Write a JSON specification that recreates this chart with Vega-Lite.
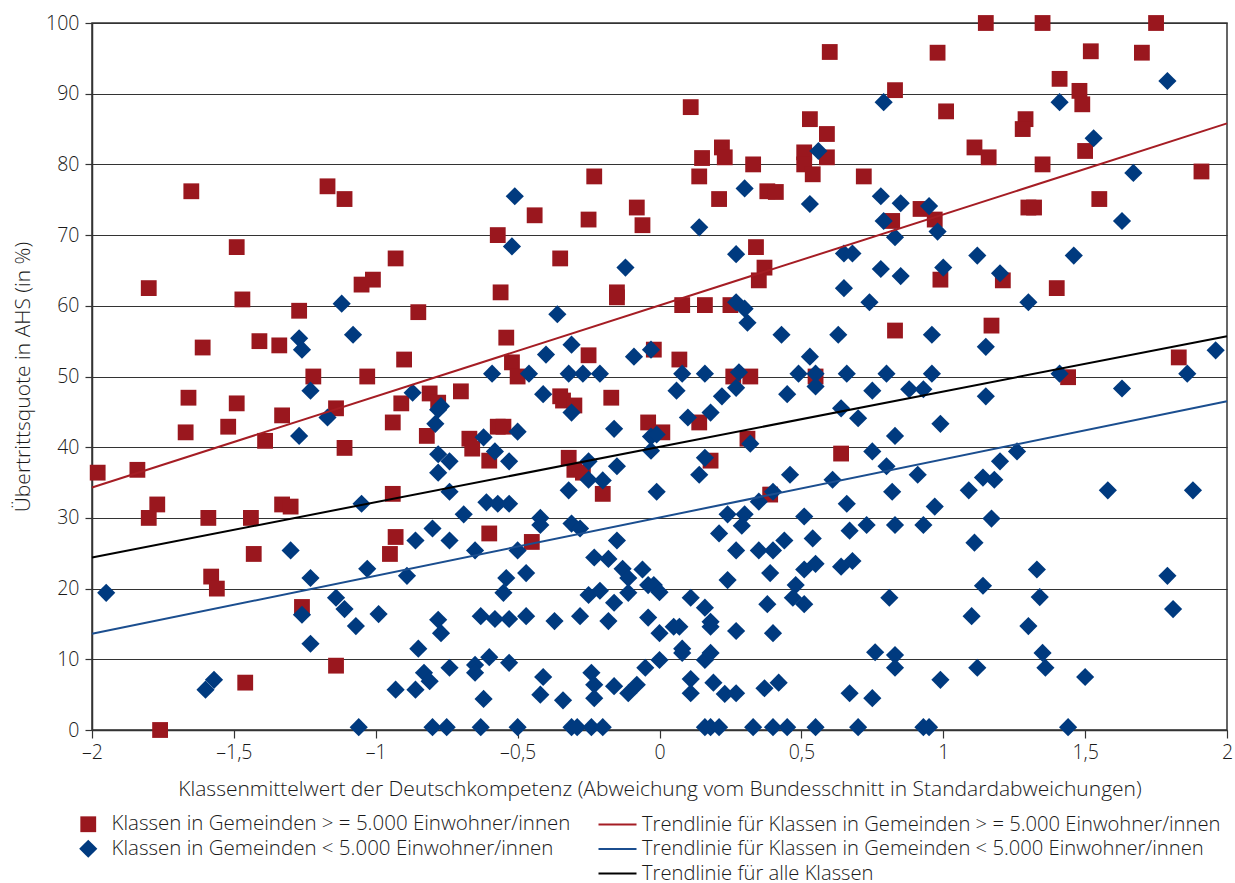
{
  "$schema": "https://vega.github.io/schema/vega-lite/v6.json",
  "width": 1135,
  "height": 707,
  "autosize": {"type": "none"},
  "padding": {"left": 92, "top": 23, "right": 8, "bottom": 153},
  "background": "white",
  "datasets": {
    "pts": [
      {"g":"A","x":-1.98,"y":36.4},{"g":"A","x":-1.84,"y":36.8},{"g":"A","x":-1.65,"y":76.2},{"g":"A","x":-1.17,"y":76.9},{"g":"A","x":-1.11,"y":75.1},{"g":"A","x":-1.49,"y":68.3},{"g":"A","x":-0.23,"y":78.3},{"g":"A","x":-0.44,"y":72.8},{"g":"A","x":-0.25,"y":72.2},{"g":"A","x":-0.08,"y":73.9},{"g":"A","x":-0.06,"y":71.4},{"g":"A","x":-0.57,"y":70.0},{"g":"A","x":-0.93,"y":66.7},{"g":"A","x":-0.35,"y":66.7},{"g":"A","x":0.60,"y":95.9},{"g":"A","x":0.98,"y":95.8},{"g":"A","x":0.83,"y":90.5},{"g":"A","x":0.11,"y":88.1},{"g":"A","x":1.01,"y":87.5},{"g":"A","x":0.53,"y":86.4},{"g":"A","x":0.59,"y":84.3},{"g":"A","x":0.22,"y":82.4},{"g":"A","x":0.15,"y":80.9},{"g":"A","x":0.23,"y":81.0},{"g":"A","x":0.51,"y":81.7},{"g":"A","x":0.59,"y":81.0},{"g":"A","x":0.33,"y":80.0},{"g":"A","x":0.51,"y":80.0},{"g":"A","x":0.54,"y":78.6},{"g":"A","x":0.14,"y":78.3},{"g":"A","x":0.72,"y":78.3},{"g":"A","x":0.38,"y":76.2},{"g":"A","x":0.41,"y":76.1},{"g":"A","x":0.21,"y":75.1},{"g":"A","x":0.92,"y":73.7},{"g":"A","x":0.82,"y":72.0},{"g":"A","x":0.97,"y":72.2},{"g":"A","x":0.34,"y":68.3},{"g":"A","x":1.15,"y":100},{"g":"A","x":1.35,"y":100},{"g":"A","x":1.75,"y":100},{"g":"A","x":1.52,"y":96.0},{"g":"A","x":1.70,"y":95.8},{"g":"A","x":1.41,"y":92.1},{"g":"A","x":1.48,"y":90.4},{"g":"A","x":1.49,"y":88.5},{"g":"A","x":1.29,"y":86.4},{"g":"A","x":1.28,"y":85.0},{"g":"A","x":1.11,"y":82.4},{"g":"A","x":1.16,"y":81.0},{"g":"A","x":1.50,"y":81.9},{"g":"A","x":1.35,"y":80.0},{"g":"A","x":1.91,"y":79.0},{"g":"A","x":1.30,"y":73.9},{"g":"A","x":1.32,"y":73.9},{"g":"A","x":1.55,"y":75.1},{"g":"A","x":-1.80,"y":62.5},{"g":"A","x":-1.47,"y":60.9},{"g":"A","x":-1.27,"y":59.3},{"g":"A","x":-1.05,"y":63.0},{"g":"A","x":-1.01,"y":63.7},{"g":"A","x":-1.61,"y":54.1},{"g":"A","x":-1.41,"y":55.0},{"g":"A","x":-1.34,"y":54.4},{"g":"A","x":-1.22,"y":50.0},{"g":"A","x":-1.03,"y":50.0},{"g":"A","x":-1.66,"y":47.0},{"g":"A","x":-1.49,"y":46.2},{"g":"A","x":-1.33,"y":44.5},{"g":"A","x":-1.14,"y":45.5},{"g":"A","x":-1.67,"y":42.1},{"g":"A","x":-1.52,"y":42.9},{"g":"A","x":-1.39,"y":40.9},{"g":"A","x":-1.11,"y":39.9},{"g":"A","x":-0.56,"y":61.9},{"g":"A","x":-0.15,"y":61.9},{"g":"A","x":-0.15,"y":61.2},{"g":"A","x":-0.85,"y":59.1},{"g":"A","x":-0.54,"y":55.5},{"g":"A","x":-0.90,"y":52.4},{"g":"A","x":-0.52,"y":52.0},{"g":"A","x":-0.25,"y":53.0},{"g":"A","x":-0.02,"y":53.8},{"g":"A","x":-0.50,"y":50.0},{"g":"A","x":-0.81,"y":47.6},{"g":"A","x":-0.70,"y":47.9},{"g":"A","x":-0.91,"y":46.2},{"g":"A","x":-0.78,"y":46.3},{"g":"A","x":-0.35,"y":47.2},{"g":"A","x":-0.34,"y":46.6},{"g":"A","x":-0.30,"y":45.9},{"g":"A","x":-0.17,"y":47.0},{"g":"A","x":-0.94,"y":43.5},{"g":"A","x":-0.57,"y":42.9},{"g":"A","x":-0.55,"y":42.9},{"g":"A","x":-0.82,"y":41.6},{"g":"A","x":-0.04,"y":43.5},{"g":"A","x":-0.67,"y":41.2},{"g":"A","x":-0.66,"y":39.8},{"g":"A","x":-0.60,"y":38.1},{"g":"A","x":-0.32,"y":38.5},{"g":"A","x":-0.30,"y":36.8},{"g":"A","x":-0.27,"y":36.4},{"g":"A","x":-0.94,"y":33.4},{"g":"A","x":-0.20,"y":33.4},{"g":"A","x":0.37,"y":65.4},{"g":"A","x":0.35,"y":63.6},{"g":"A","x":0.99,"y":63.7},{"g":"A","x":0.08,"y":60.1},{"g":"A","x":0.16,"y":60.1},{"g":"A","x":0.25,"y":60.1},{"g":"A","x":0.83,"y":56.5},{"g":"A","x":0.07,"y":52.4},{"g":"A","x":0.26,"y":50.0},{"g":"A","x":0.32,"y":50.0},{"g":"A","x":0.55,"y":50.0},{"g":"A","x":0.01,"y":42.1},{"g":"A","x":0.14,"y":43.5},{"g":"A","x":0.31,"y":41.2},{"g":"A","x":0.18,"y":38.1},{"g":"A","x":0.64,"y":39.1},{"g":"A","x":0.39,"y":33.3},{"g":"A","x":1.21,"y":63.6},{"g":"A","x":1.40,"y":62.5},{"g":"A","x":1.17,"y":57.2},{"g":"A","x":1.44,"y":49.9},{"g":"A","x":1.83,"y":52.7},{"g":"A","x":-1.77,"y":31.9},{"g":"A","x":-1.80,"y":30.0},{"g":"A","x":-1.59,"y":30.0},{"g":"A","x":-1.44,"y":30.0},{"g":"A","x":-1.33,"y":31.9},{"g":"A","x":-1.30,"y":31.6},{"g":"A","x":-1.43,"y":24.9},{"g":"A","x":-1.58,"y":21.7},{"g":"A","x":-1.56,"y":20.0},{"g":"A","x":-1.26,"y":17.4},{"g":"A","x":-1.14,"y":9.1},{"g":"A","x":-1.46,"y":6.7},{"g":"A","x":-1.76,"y":0},{"g":"A","x":-0.93,"y":27.3},{"g":"A","x":-0.95,"y":24.9},{"g":"A","x":-0.60,"y":27.8},{"g":"A","x":-0.45,"y":26.6},
      {"g":"B","x":-0.51,"y":75.5},{"g":"B","x":-0.52,"y":68.4},{"g":"B","x":0.79,"y":88.8},{"g":"B","x":0.56,"y":81.9},{"g":"B","x":0.30,"y":76.6},{"g":"B","x":0.53,"y":74.4},{"g":"B","x":0.78,"y":75.5},{"g":"B","x":0.85,"y":74.5},{"g":"B","x":0.95,"y":74.1},{"g":"B","x":0.79,"y":72.0},{"g":"B","x":0.14,"y":71.1},{"g":"B","x":0.83,"y":69.7},{"g":"B","x":0.98,"y":70.5},{"g":"B","x":0.27,"y":67.3},{"g":"B","x":0.65,"y":67.4},{"g":"B","x":0.68,"y":67.4},{"g":"B","x":1.79,"y":91.8},{"g":"B","x":1.41,"y":88.8},{"g":"B","x":1.53,"y":83.7},{"g":"B","x":1.67,"y":78.8},{"g":"B","x":1.63,"y":72.0},{"g":"B","x":1.12,"y":67.1},{"g":"B","x":1.46,"y":67.1},{"g":"B","x":-1.12,"y":60.3},{"g":"B","x":-1.27,"y":55.4},{"g":"B","x":-1.26,"y":53.8},{"g":"B","x":-1.08,"y":55.9},{"g":"B","x":-1.23,"y":48.0},{"g":"B","x":-1.17,"y":44.2},{"g":"B","x":-1.27,"y":41.6},{"g":"B","x":-0.12,"y":65.4},{"g":"B","x":-0.36,"y":58.8},{"g":"B","x":-0.31,"y":54.5},{"g":"B","x":-0.40,"y":53.1},{"g":"B","x":-0.09,"y":52.8},{"g":"B","x":-0.03,"y":53.8},{"g":"B","x":-0.59,"y":50.4},{"g":"B","x":-0.46,"y":50.4},{"g":"B","x":-0.32,"y":50.4},{"g":"B","x":-0.27,"y":50.4},{"g":"B","x":-0.21,"y":50.4},{"g":"B","x":-0.87,"y":47.7},{"g":"B","x":-0.77,"y":45.8},{"g":"B","x":-0.78,"y":45.3},{"g":"B","x":-0.41,"y":47.5},{"g":"B","x":-0.31,"y":44.9},{"g":"B","x":-0.79,"y":43.3},{"g":"B","x":-0.50,"y":42.2},{"g":"B","x":-0.16,"y":42.6},{"g":"B","x":-0.62,"y":41.4},{"g":"B","x":-0.58,"y":39.4},{"g":"B","x":-0.53,"y":38.0},{"g":"B","x":-0.78,"y":39.0},{"g":"B","x":-0.74,"y":38.0},{"g":"B","x":-0.78,"y":36.4},{"g":"B","x":-0.25,"y":38.0},{"g":"B","x":-0.25,"y":35.4},{"g":"B","x":-0.20,"y":35.3},{"g":"B","x":-0.15,"y":37.3},{"g":"B","x":-0.74,"y":33.7},{"g":"B","x":-0.32,"y":33.9},{"g":"B","x":-0.03,"y":39.5},{"g":"B","x":-0.03,"y":41.5},{"g":"B","x":0.78,"y":65.2},{"g":"B","x":0.85,"y":64.2},{"g":"B","x":1.00,"y":65.4},{"g":"B","x":0.65,"y":62.5},{"g":"B","x":0.27,"y":60.5},{"g":"B","x":0.30,"y":59.6},{"g":"B","x":0.31,"y":57.6},{"g":"B","x":0.74,"y":60.5},{"g":"B","x":0.43,"y":55.9},{"g":"B","x":0.63,"y":55.9},{"g":"B","x":0.96,"y":55.9},{"g":"B","x":0.53,"y":52.8},{"g":"B","x":0.08,"y":50.4},{"g":"B","x":0.16,"y":50.4},{"g":"B","x":0.28,"y":50.6},{"g":"B","x":0.49,"y":50.4},{"g":"B","x":0.55,"y":50.4},{"g":"B","x":0.66,"y":50.4},{"g":"B","x":0.80,"y":50.4},{"g":"B","x":0.96,"y":50.4},{"g":"B","x":0.06,"y":48.0},{"g":"B","x":0.27,"y":48.4},{"g":"B","x":0.22,"y":47.2},{"g":"B","x":0.45,"y":47.5},{"g":"B","x":0.55,"y":48.6},{"g":"B","x":0.75,"y":48.0},{"g":"B","x":0.88,"y":48.2},{"g":"B","x":0.93,"y":48.2},{"g":"B","x":-0.01,"y":41.8},{"g":"B","x":0.10,"y":44.2},{"g":"B","x":0.18,"y":44.9},{"g":"B","x":0.64,"y":45.5},{"g":"B","x":0.70,"y":44.1},{"g":"B","x":0.99,"y":43.3},{"g":"B","x":0.32,"y":40.5},{"g":"B","x":0.83,"y":41.6},{"g":"B","x":0.16,"y":38.5},{"g":"B","x":0.75,"y":39.4},{"g":"B","x":0.80,"y":37.3},{"g":"B","x":0.14,"y":36.1},{"g":"B","x":0.46,"y":36.1},{"g":"B","x":0.61,"y":35.4},{"g":"B","x":0.91,"y":36.1},{"g":"B","x":-0.01,"y":33.7},{"g":"B","x":0.40,"y":33.7},{"g":"B","x":0.82,"y":33.7},{"g":"B","x":1.20,"y":64.6},{"g":"B","x":1.30,"y":60.5},{"g":"B","x":1.15,"y":54.2},{"g":"B","x":1.41,"y":50.4},{"g":"B","x":1.96,"y":53.7},{"g":"B","x":1.86,"y":50.4},{"g":"B","x":1.15,"y":47.2},{"g":"B","x":1.63,"y":48.3},{"g":"B","x":1.26,"y":39.4},{"g":"B","x":1.20,"y":38.0},{"g":"B","x":1.14,"y":35.7},{"g":"B","x":1.18,"y":35.4},{"g":"B","x":1.09,"y":33.9},{"g":"B","x":1.58,"y":33.9},{"g":"B","x":1.88,"y":33.9},{"g":"B","x":-1.05,"y":32.0},{"g":"B","x":-1.30,"y":25.4},{"g":"B","x":-1.95,"y":19.4},{"g":"B","x":-1.23,"y":21.5},{"g":"B","x":-1.03,"y":22.8},{"g":"B","x":-1.26,"y":16.3},{"g":"B","x":-1.14,"y":18.7},{"g":"B","x":-1.11,"y":17.1},{"g":"B","x":-1.07,"y":14.7},{"g":"B","x":-1.23,"y":12.2},{"g":"B","x":-1.57,"y":7.1},{"g":"B","x":-1.60,"y":5.7},{"g":"B","x":-1.06,"y":0.4},{"g":"B","x":-0.61,"y":32.2},{"g":"B","x":-0.57,"y":32.0},{"g":"B","x":-0.53,"y":32.0},{"g":"B","x":-0.69,"y":30.5},{"g":"B","x":-0.42,"y":30.0},{"g":"B","x":-0.42,"y":29.0},{"g":"B","x":-0.31,"y":29.2},{"g":"B","x":-0.28,"y":28.5},{"g":"B","x":-0.80,"y":28.5},{"g":"B","x":-0.86,"y":26.8},{"g":"B","x":-0.74,"y":26.8},{"g":"B","x":-0.65,"y":25.4},{"g":"B","x":-0.50,"y":25.4},{"g":"B","x":-0.15,"y":26.8},{"g":"B","x":-0.89,"y":21.8},{"g":"B","x":-0.54,"y":21.5},{"g":"B","x":-0.55,"y":19.4},{"g":"B","x":-0.47,"y":22.2},{"g":"B","x":-0.23,"y":24.4},{"g":"B","x":-0.18,"y":24.2},{"g":"B","x":-0.13,"y":22.8},{"g":"B","x":-0.11,"y":21.5},{"g":"B","x":-0.06,"y":22.7},{"g":"B","x":-0.25,"y":19.1},{"g":"B","x":-0.21,"y":19.7},{"g":"B","x":-0.11,"y":19.4},{"g":"B","x":-0.16,"y":18.0},{"g":"B","x":-0.04,"y":20.5},{"g":"B","x":-0.99,"y":16.4},{"g":"B","x":-0.78,"y":15.6},{"g":"B","x":-0.77,"y":13.7},{"g":"B","x":-0.63,"y":16.1},{"g":"B","x":-0.58,"y":15.7},{"g":"B","x":-0.53,"y":15.7},{"g":"B","x":-0.47,"y":16.1},{"g":"B","x":-0.37,"y":15.4},{"g":"B","x":-0.28,"y":16.1},{"g":"B","x":-0.18,"y":15.4},{"g":"B","x":-0.04,"y":15.9},{"g":"B","x":-0.85,"y":11.5},{"g":"B","x":-0.60,"y":10.3},{"g":"B","x":-0.65,"y":9.2},{"g":"B","x":-0.65,"y":8.1},{"g":"B","x":-0.53,"y":9.5},{"g":"B","x":-0.83,"y":8.1},{"g":"B","x":-0.81,"y":6.9},{"g":"B","x":-0.74,"y":8.8},{"g":"B","x":-0.93,"y":5.7},{"g":"B","x":-0.86,"y":5.7},{"g":"B","x":-0.62,"y":4.4},{"g":"B","x":-0.41,"y":7.5},{"g":"B","x":-0.42,"y":5.0},{"g":"B","x":-0.34,"y":4.2},{"g":"B","x":-0.24,"y":8.1},{"g":"B","x":-0.23,"y":6.4},{"g":"B","x":-0.23,"y":4.5},{"g":"B","x":-0.16,"y":6.2},{"g":"B","x":-0.11,"y":5.2},{"g":"B","x":-0.08,"y":6.4},{"g":"B","x":-0.05,"y":8.8},{"g":"B","x":-0.80,"y":0.4},{"g":"B","x":-0.75,"y":0.4},{"g":"B","x":-0.63,"y":0.4},{"g":"B","x":-0.50,"y":0.4},{"g":"B","x":-0.31,"y":0.4},{"g":"B","x":-0.29,"y":0.4},{"g":"B","x":-0.24,"y":0.4},{"g":"B","x":-0.20,"y":0.4},{"g":"B","x":0.35,"y":32.3},{"g":"B","x":0.66,"y":32.0},{"g":"B","x":0.97,"y":31.6},{"g":"B","x":0.24,"y":30.5},{"g":"B","x":0.30,"y":30.5},{"g":"B","x":0.29,"y":28.9},{"g":"B","x":0.51,"y":30.2},{"g":"B","x":0.21,"y":27.8},{"g":"B","x":0.54,"y":27.1},{"g":"B","x":0.44,"y":26.8},{"g":"B","x":0.27,"y":25.4},{"g":"B","x":0.35,"y":25.4},{"g":"B","x":0.40,"y":25.4},{"g":"B","x":0.67,"y":28.2},{"g":"B","x":0.73,"y":29.0},{"g":"B","x":0.83,"y":29.0},{"g":"B","x":0.93,"y":29.0},{"g":"B","x":0.51,"y":22.7},{"g":"B","x":0.55,"y":23.5},{"g":"B","x":0.64,"y":23.1},{"g":"B","x":0.68,"y":23.9},{"g":"B","x":0.39,"y":22.2},{"g":"B","x":0.24,"y":21.2},{"g":"B","x":-0.02,"y":20.5},{"g":"B","x":0.00,"y":19.5},{"g":"B","x":0.48,"y":20.5},{"g":"B","x":0.47,"y":18.7},{"g":"B","x":0.51,"y":17.8},{"g":"B","x":0.81,"y":18.7},{"g":"B","x":0.11,"y":18.7},{"g":"B","x":0.16,"y":17.3},{"g":"B","x":0.38,"y":17.8},{"g":"B","x":0.00,"y":13.7},{"g":"B","x":0.05,"y":14.6},{"g":"B","x":0.07,"y":14.6},{"g":"B","x":0.18,"y":15.3},{"g":"B","x":0.18,"y":14.6},{"g":"B","x":0.27,"y":14.0},{"g":"B","x":0.40,"y":13.7},{"g":"B","x":0.08,"y":11.5},{"g":"B","x":0.08,"y":10.9},{"g":"B","x":0.16,"y":9.9},{"g":"B","x":0.18,"y":10.9},{"g":"B","x":0.00,"y":9.9},{"g":"B","x":0.11,"y":7.2},{"g":"B","x":0.11,"y":5.2},{"g":"B","x":0.19,"y":6.7},{"g":"B","x":0.23,"y":5.1},{"g":"B","x":0.27,"y":5.2},{"g":"B","x":0.37,"y":5.9},{"g":"B","x":0.42,"y":6.7},{"g":"B","x":0.76,"y":11.0},{"g":"B","x":0.83,"y":10.6},{"g":"B","x":0.83,"y":8.8},{"g":"B","x":0.67,"y":5.2},{"g":"B","x":0.75,"y":4.5},{"g":"B","x":0.99,"y":7.1},{"g":"B","x":0.16,"y":0.4},{"g":"B","x":0.18,"y":0.4},{"g":"B","x":0.21,"y":0.4},{"g":"B","x":0.33,"y":0.4},{"g":"B","x":0.40,"y":0.4},{"g":"B","x":0.45,"y":0.4},{"g":"B","x":0.55,"y":0.4},{"g":"B","x":0.70,"y":0.4},{"g":"B","x":0.93,"y":0.4},{"g":"B","x":0.95,"y":0.4},{"g":"B","x":1.17,"y":29.9},{"g":"B","x":1.11,"y":26.5},{"g":"B","x":1.33,"y":22.7},{"g":"B","x":1.79,"y":21.8},{"g":"B","x":1.14,"y":20.4},{"g":"B","x":1.34,"y":18.8},{"g":"B","x":1.81,"y":17.1},{"g":"B","x":1.10,"y":16.1},{"g":"B","x":1.30,"y":14.7},{"g":"B","x":1.35,"y":10.9},{"g":"B","x":1.36,"y":8.8},{"g":"B","x":1.12,"y":8.8},{"g":"B","x":1.50,"y":7.5},{"g":"B","x":1.44,"y":0.4}
    ],
    "trend": [
      {"t":"R","x":-2,"y":34.3},{"t":"R","x":2,"y":85.8},
      {"t":"B","x":-2,"y":13.6},{"t":"B","x":2,"y":46.5},
      {"t":"K","x":-2,"y":24.4},{"t":"K","x":2,"y":55.7}
    ]
  },
  "layer": [
    {
      "mark": {"type": "rule", "color": "#111", "strokeWidth": 1},
      "encoding": {
        "x": {"datum": 0, "type": "quantitative", "scale": {"domain": [-2, 2], "nice": false, "zero": false}}
      }
    },
    {
      "data": {"name": "pts"},
      "mark": {"type": "point", "filled": true, "opacity": 1, "strokeWidth": 0},
      "encoding": {
        "x": {
          "field": "x", "type": "quantitative",
          "scale": {"domain": [-2, 2], "nice": false, "zero": false},
          "axis": {
            "values": [-2, -1.5, -1, -0.5, 0, 0.5, 1, 1.5, 2],
            "labelExpr": "replace(replace(toString(datum.value), '-', '–'), '.', ',')",
            "grid": false,
            "tickSize": 8,
            "labelPadding": 5,
            "labelFlush": false,
            "domainWidth": 1.5,
            "title": "Klassenmittelwert der Deutschkompetenz (Abweichung vom Bundesschnitt in Standardabweichungen)",
            "titlePadding": 17
          }
        },
        "y": {
          "field": "y", "type": "quantitative",
          "scale": {"domain": [0, 100], "nice": false, "zero": true},
          "axis": {
            "values": [0, 10, 20, 30, 40, 50, 60, 70, 80, 90, 100],
            "grid": true,
            "gridColor": "#333",
            "gridWidth": 1.2,
            "tickSize": 7,
            "labelPadding": 6,
            "domainWidth": 1.5,
            "title": "Übertrittsquote in AHS (in %)",
            "titlePadding": 12
          }
        },
        "fill": {
          "field": "g", "type": "nominal",
          "scale": {"domain": ["A", "B"], "range": ["#9a171e", "#003a7f"]},
          "legend": {
            "orient": "none", "legendX": -14, "legendY": 791, "title": null,
            "labelExpr": "datum.label == 'A' ? 'Klassen in Gemeinden > = 5.000 Einwohner/innen' : 'Klassen in Gemeinden < 5.000 Einwohner/innen'",
            "labelOffset": 13, "rowPadding": 3.5, "labelLimit": 700, "symbolStrokeWidth": 0, "labelFontSize": 20.5
          }
        },
        "shape": {
          "field": "g", "type": "nominal",
          "scale": {"domain": ["A", "B"], "range": ["square", "diamond"]},
          "legend": {
            "orient": "none", "legendX": -14, "legendY": 791, "title": null,
            "labelExpr": "datum.label == 'A' ? 'Klassen in Gemeinden > = 5.000 Einwohner/innen' : 'Klassen in Gemeinden < 5.000 Einwohner/innen'",
            "labelOffset": 13, "rowPadding": 3.5, "labelLimit": 700, "symbolStrokeWidth": 0, "labelFontSize": 20.5
          }
        },
        "size": {
          "field": "g", "type": "nominal",
          "scale": {"domain": ["A", "B"], "range": [250, 330]},
          "legend": {
            "orient": "none", "legendX": -14, "legendY": 791, "title": null,
            "labelExpr": "datum.label == 'A' ? 'Klassen in Gemeinden > = 5.000 Einwohner/innen' : 'Klassen in Gemeinden < 5.000 Einwohner/innen'",
            "labelOffset": 13, "rowPadding": 3.5, "labelLimit": 700, "symbolStrokeWidth": 0, "labelFontSize": 20.5
          }
        }
      }
    },
    {
      "data": {"name": "trend"},
      "mark": {"type": "line", "strokeWidth": 2},
      "encoding": {
        "x": {"field": "x", "type": "quantitative"},
        "y": {"field": "y", "type": "quantitative"},
        "stroke": {
          "field": "t", "type": "nominal",
          "scale": {"domain": ["R", "B", "K"], "range": ["#a51d24", "#1b4e8f", "#000000"]},
          "legend": {
            "orient": "none", "legendX": 515, "legendY": 791, "title": null,
            "symbolType": "M-2,0L2,0", "symbolSize": 361, "symbolStrokeWidth": 2,
            "labelExpr": "datum.label == 'R' ? 'Trendlinie für Klassen in Gemeinden > = 5.000 Einwohner/innen' : datum.label == 'B' ? 'Trendlinie für Klassen in Gemeinden < 5.000 Einwohner/innen' : 'Trendlinie für alle Klassen'",
            "labelOffset": 14, "rowPadding": 3.5, "labelLimit": 800, "labelFontSize": 20.2
          }
        }
      }
    },
    {
      "mark": {"type": "text", "text": "R² = 0,501", "align": "right", "baseline": "middle", "color": "#a63a40", "fontSize": 21.5, "font": "Open Sans", "fontWeight": 300},
      "encoding": {"x": {"datum": 1.93, "type": "quantitative"}, "y": {"datum": 86.7, "type": "quantitative"}}
    },
    {
      "mark": {"type": "text", "text": "R² = 0,097", "align": "right", "baseline": "middle", "color": "#1a1a1a", "fontSize": 21.5, "font": "Open Sans", "fontWeight": 300},
      "encoding": {"x": {"datum": 1.93, "type": "quantitative"}, "y": {"datum": 57.6, "type": "quantitative"}}
    },
    {
      "mark": {"type": "text", "text": "R² = 0,097", "align": "right", "baseline": "middle", "color": "#2f5d9c", "fontSize": 21.5, "font": "Open Sans", "fontWeight": 300},
      "encoding": {"x": {"datum": 1.93, "type": "quantitative"}, "y": {"datum": 41.6, "type": "quantitative"}}
    }
  ],
  "config": {
    "font": "Open Sans",
    "view": {"stroke": "#333", "strokeWidth": 1.5},
    "axis": {
      "labelFont": "Open Sans", "labelFontSize": 19.5, "labelFontWeight": 300, "labelColor": "#1a1a1a",
      "titleFont": "Open Sans", "titleFontSize": 21, "titleFontWeight": 300, "titleColor": "#1a1a1a",
      "domainColor": "#333", "tickColor": "#333", "tickWidth": 1.2
    },
    "legend": {
      "labelFont": "Open Sans", "labelFontSize": 20.5, "labelFontWeight": 300, "labelColor": "#1a1a1a"
    }
  }
}
